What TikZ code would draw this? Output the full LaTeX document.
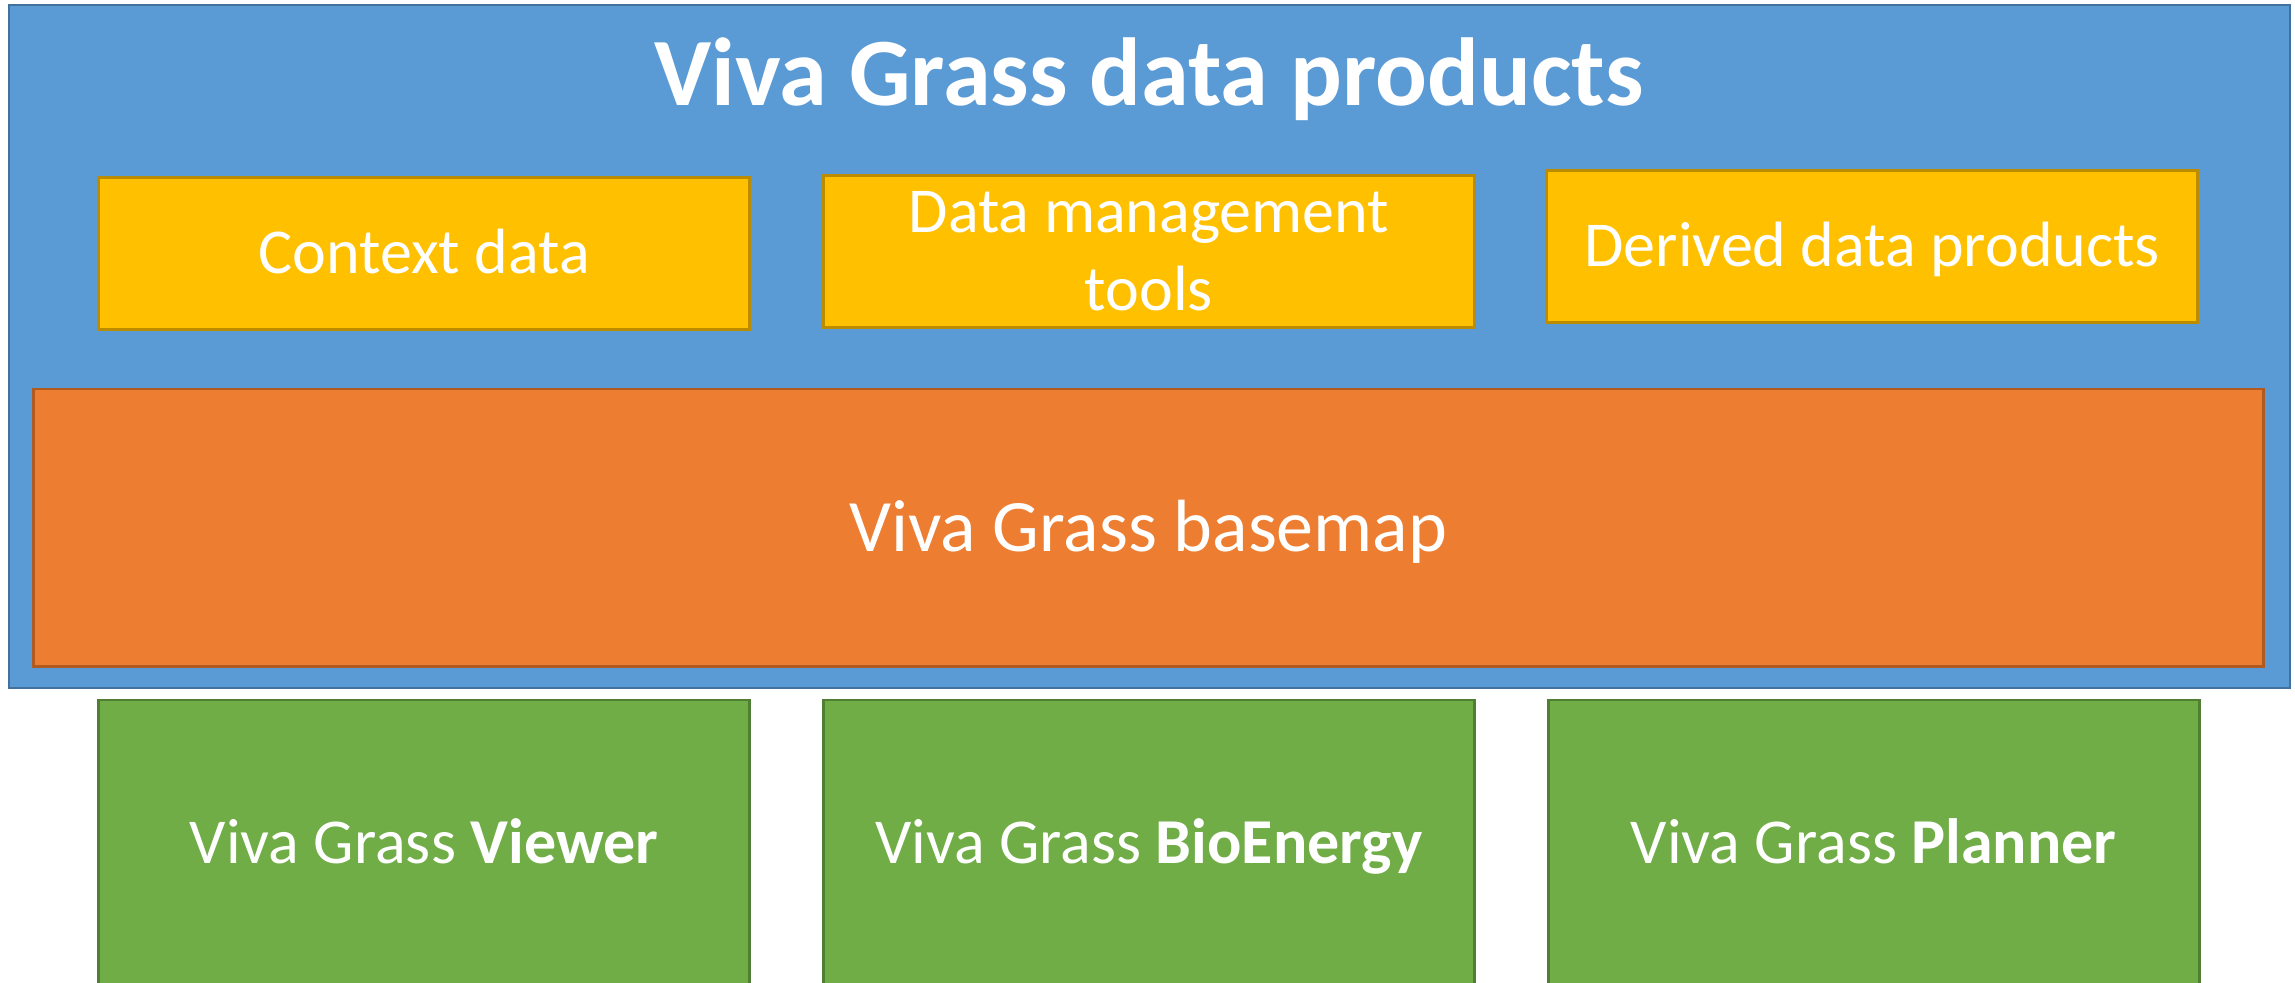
\documentclass[tikz,border=0pt]{standalone}
\usepackage{fontspec}
\setmainfont{Carlito}
\definecolor{bluefill}{HTML}{5B9BD5}
\definecolor{blueline}{HTML}{41719C}
\definecolor{yelfill}{HTML}{FFC000}
\definecolor{yelline}{HTML}{BC8C00}
\definecolor{orafill}{HTML}{ED7D31}
\definecolor{oraline}{HTML}{AE5A21}
\definecolor{grefill}{HTML}{70AD47}
\definecolor{greline}{HTML}{507E32}
\begin{document}
\begin{tikzpicture}[x=0.5pt,y=-0.5pt,
  box/.style={draw, rectangle, line width=1.3pt, inner sep=0pt, text=white, align=center},
  onetext/.style={font=\fontsize{32pt}{39pt}\selectfont, text height=20.2pt, text depth=0pt},
  bluebox/.style={box, fill=bluefill, draw=blueline},
  yelbox/.style={box, fill=yelfill, draw=yelline, minimum width=325.5pt, minimum height=76pt},
  orabox/.style={box, fill=orafill, draw=oraline, minimum width=1115pt, minimum height=138.85pt,
    font=\fontsize{37pt}{45pt}\selectfont, text height=23.4pt, text depth=0pt},
  grebox/.style={box, fill=grefill, draw=greline, minimum width=325.5pt, minimum height=143pt, onetext},
  titletext/.style={text=white, inner sep=0pt, font=\fontsize{48.3pt}{58pt}\selectfont\bfseries}
]
\useasboundingbox (0,0) rectangle (2295,983);
\clip (0,0) rectangle (2295,983);
\node[bluebox, minimum width=1140.5pt, minimum height=341.5pt] (products) at (1149.5,346.5) {};
\node[titletext, anchor=base] (title) at (1149,106) {Viva Grass data products};
\node[yelbox, onetext] (context) at (424.25,253.3) {Context data};
\node[yelbox, font=\fontsize{32pt}{39pt}\selectfont] (tools) at (1148.9,251.7) {Data management\\tools};
\node[yelbox, onetext] (derived) at (1872.15,246.5) {Derived data products};
\node[orabox] (basemap) at (1148.3,527.85) {Viva Grass basemap};
\node[grebox] (viewer) at (424,843) {Viva Grass \textbf{Viewer}};
\node[grebox] (bioenergy) at (1148.75,843) {Viva Grass \textbf{BioEnergy}};
\node[grebox] (planner) at (1873.75,843) {Viva Grass \textbf{Planner}};
\end{tikzpicture}
\end{document}
